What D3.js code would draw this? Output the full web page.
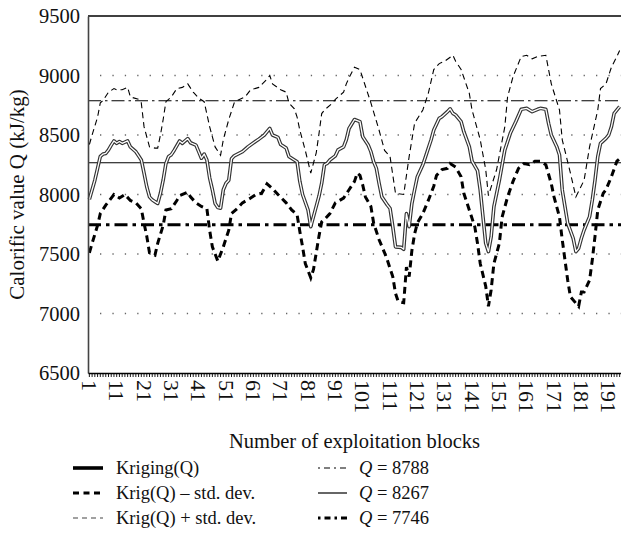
<!DOCTYPE html>
<html>
<head>
<meta charset="utf-8">
<script src="https://cdn.jsdelivr.net/npm/d3@7"></script>
<style>
  body { margin: 0; background: #fff; }
  svg { display: block; font-family: 'Liberation Serif', 'Times New Roman', serif; }
</style>
</head>
<body>
<div id="chart"></div>
<script>
const WIDTH = 621
const HEIGHT = 533
const MARGIN = { top: 16, right: 0, bottom: 160, left: 88 }

// exploitation blocks (categories) and labelled ones
const blocks = d3.range(1, 196)
const xTickLabels = [1, 11, 21, 31, 41, 51, 61, 71, 81, 91, 101, 111, 121, 131, 141, 151, 161, 171, 181, 191]
const yTicks = [6500, 7000, 7500, 8000, 8500, 9000, 9500]
const gridValues = [7000, 7500, 8000, 8500, 9000]

// reference levels Q
const levelHigh = 8788
const levelMid = 8267
const levelLow = 7746

// [block, value]
const kriging = [[1, 7960], [2, 8040], [3, 8120], [4, 8220], [5, 8320], [6, 8340], [7, 8345], [8, 8375], [9, 8415], [10, 8450], [11, 8430], [12, 8445], [13, 8430], [14, 8440], [15, 8450], [16, 8400], [18, 8360], [19, 8325], [20, 8290], [21, 8180], [22, 8065], [23, 7980], [24, 7955], [25, 7940], [26, 7925], [27, 8010], [28, 8120], [29, 8260], [30, 8320], [31, 8335], [32, 8370], [34, 8450], [35, 8430], [37, 8470], [38, 8435], [40, 8415], [41, 8360], [42, 8305], [43, 8340], [44, 8290], [45, 8140], [46, 8040], [47, 7925], [48, 7890], [49, 7885], [50, 8040], [51, 8095], [52, 8120], [53, 8300], [54, 8325], [57, 8360], [59, 8400], [62, 8450], [63, 8465], [65, 8500], [67, 8555], [68, 8500], [70, 8480], [71, 8420], [73, 8390], [74, 8320], [76, 8290], [77, 8275], [78, 8110], [79, 8000], [81, 7870], [82, 7730], [84, 7900], [85, 7985], [86, 8095], [87, 8250], [88, 8262], [89, 8290], [91, 8325], [92, 8375], [94, 8400], [95, 8460], [96, 8555], [98, 8630], [100, 8612], [101, 8486], [103, 8416], [104, 8360], [105, 8276], [106, 8220], [107, 8094], [108, 7980], [110, 7912], [111, 7884], [112, 7730], [113, 7560], [115, 7556], [116, 7540], [117, 7840], [118, 7730], [119, 7926], [120, 8040], [121, 8150], [123, 8250], [124, 8318], [126, 8458], [127, 8542], [129, 8640], [130, 8654], [132, 8696], [133, 8720], [134, 8682], [135, 8668], [137, 8612], [138, 8528], [140, 8402], [141, 8280], [143, 8200], [144, 8038], [145, 7814], [146, 7590], [147, 7520], [148, 7646], [149, 7898], [151, 8120], [152, 8248], [153, 8374], [155, 8514], [157, 8612], [159, 8716], [161, 8724], [163, 8696], [165, 8716], [166, 8724], [168, 8716], [169, 8598], [170, 8500], [172, 8402], [173, 8332], [174, 8038], [175, 7898], [176, 7758], [178, 7632], [179, 7520], [180, 7548], [181, 7632], [182, 7702], [184, 7814], [185, 7954], [186, 8122], [187, 8318], [188, 8430], [190, 8472], [191, 8500], [192, 8570], [193, 8682], [195, 8738]]

const krigPlus = [[1, 8420], [2, 8500], [4, 8650], [5, 8770], [6, 8790], [8, 8860], [10, 8890], [11, 8880], [13, 8880], [15, 8900], [16, 8820], [19, 8800], [20, 8770], [21, 8570], [23, 8400], [25, 8390], [26, 8390], [27, 8500], [28, 8630], [29, 8780], [31, 8820], [33, 8890], [35, 8900], [37, 8930], [39, 8860], [41, 8810], [43, 8780], [45, 8570], [47, 8400], [49, 8330], [50, 8460], [52, 8630], [54, 8770], [55, 8790], [58, 8820], [60, 8880], [63, 8900], [66, 8970], [67, 9000], [68, 8930], [71, 8880], [73, 8860], [74, 8770], [76, 8720], [77, 8650], [78, 8540], [80, 8370], [82, 8180], [84, 8350], [85, 8510], [86, 8680], [87, 8710], [90, 8770], [91, 8800], [92, 8820], [94, 8860], [95, 8930], [96, 8980], [98, 9070], [100, 9050], [102, 8910], [104, 8770], [107, 8540], [109, 8370], [111, 8320], [113, 8010], [116, 8000], [118, 8320], [120, 8600], [123, 8710], [125, 8850], [127, 9050], [129, 9100], [131, 9120], [134, 9170], [135, 9120], [137, 9050], [140, 8850], [141, 8710], [144, 8460], [146, 8210], [147, 7990], [150, 8210], [153, 8570], [154, 8820], [156, 8990], [159, 9160], [161, 9170], [163, 9140], [165, 9160], [168, 9170], [170, 8930], [173, 8710], [174, 8460], [177, 8180], [179, 7980], [182, 8120], [184, 8400], [187, 8710], [188, 8890], [190, 8930], [192, 9070], [194, 9160], [195, 9210]]

const krigMinus = [[1, 7510], [2, 7590], [4, 7740], [5, 7840], [7, 7910], [9, 7970], [10, 8000], [12, 7970], [14, 8000], [16, 7950], [18, 7930], [20, 7880], [21, 7760], [22, 7650], [23, 7510], [25, 7490], [26, 7590], [28, 7740], [29, 7870], [31, 7880], [33, 7950], [34, 7990], [37, 8020], [38, 7980], [40, 7930], [42, 7900], [44, 7880], [45, 7700], [46, 7560], [48, 7440], [50, 7560], [52, 7700], [53, 7840], [55, 7880], [57, 7930], [60, 7970], [62, 8000], [64, 8010], [66, 8090], [68, 8050], [70, 8000], [73, 7930], [75, 7870], [77, 7830], [78, 7690], [79, 7560], [80, 7420], [82, 7300], [83, 7370], [84, 7510], [85, 7650], [86, 7770], [87, 7790], [89, 7840], [91, 7930], [94, 7970], [96, 8040], [98, 8110], [99, 8180], [100, 8160], [101, 8080], [102, 7980], [104, 7900], [105, 7760], [107, 7620], [109, 7510], [110, 7450], [112, 7310], [113, 7170], [114, 7100], [116, 7090], [117, 7390], [118, 7310], [119, 7530], [120, 7670], [121, 7760], [123, 7840], [125, 7950], [127, 8070], [128, 8160], [130, 8210], [132, 8220], [133, 8260], [135, 8230], [137, 8150], [138, 8010], [140, 7870], [142, 7730], [143, 7590], [144, 7420], [146, 7230], [147, 7060], [148, 7200], [149, 7420], [151, 7590], [152, 7810], [154, 7980], [156, 8110], [158, 8220], [160, 8260], [162, 8250], [164, 8280], [166, 8280], [168, 8250], [170, 8090], [171, 7980], [173, 7810], [174, 7620], [175, 7450], [176, 7280], [177, 7140], [180, 7060], [181, 7180], [182, 7180], [184, 7280], [185, 7450], [186, 7650], [187, 7870], [189, 8010], [190, 8040], [192, 8150], [194, 8280], [195, 8300]]

const legendLeft = ['Kriging(Q)', 'Krig(Q) \u2013 std. dev.', 'Krig(Q) + std. dev.']
const legendRight = [levelHigh, levelMid, levelLow]

const svg = d3.select('#chart')
  .append('svg')
  .attr('width', WIDTH)
  .attr('height', HEIGHT)

const plotW = WIDTH - MARGIN.left - MARGIN.right
const plotBottom = HEIGHT - MARGIN.bottom

const x = d3.scaleBand()
  .domain(blocks)
  .range([MARGIN.left, MARGIN.left + plotW])
  .padding(0)
const xc = b => x(b) + x.bandwidth() / 2

const y = d3.scaleLinear()
  .domain([6500, 9500])
  .range([plotBottom, MARGIN.top])

// dotted grid
svg.append('g')
  .selectAll('line')
  .data(gridValues)
  .enter()
  .append('line')
  .attr('x1', MARGIN.left + 12)
  .attr('x2', MARGIN.left + plotW)
  .attr('y1', d => y(d))
  .attr('y2', d => y(d))
  .attr('stroke', '#666')
  .attr('stroke-width', 1.3)
  .attr('stroke-dasharray', '1.3,11.1')

// top border
svg.append('line')
  .attr('x1', MARGIN.left)
  .attr('x2', MARGIN.left + plotW)
  .attr('y1', y(9500))
  .attr('y2', y(9500))
  .attr('stroke', '#000')
  .attr('stroke-width', 1.5)

// Q reference lines
const levelStyles = [
  { v: levelHigh, w: 1.2, dash: '13,4,2.5,4' },
  { v: levelMid, w: 1.2, dash: null },
  { v: levelLow, w: 3, dash: '13,5,3.5,5' }
]
svg.append('g')
  .selectAll('line')
  .data(levelStyles)
  .enter()
  .append('line')
  .attr('x1', MARGIN.left)
  .attr('x2', MARGIN.left + plotW)
  .attr('y1', d => y(d.v))
  .attr('y2', d => y(d.v))
  .attr('stroke', '#000')
  .attr('stroke-width', d => d.w)
  .attr('stroke-dasharray', d => d.dash)

const line = d3.line()
  .x(d => xc(d[0]))
  .y(d => y(d[1]))

// + std dev
svg.append('path')
  .datum(krigPlus)
  .attr('fill', 'none')
  .attr('stroke', '#000')
  .attr('stroke-width', 1.1)
  .attr('stroke-dasharray', '6,4')
  .attr('d', line)

// - std dev
svg.append('path')
  .datum(krigMinus)
  .attr('fill', 'none')
  .attr('stroke', '#000')
  .attr('stroke-width', 3)
  .attr('stroke-dasharray', '7,4.5')
  .attr('d', line)

// kriging: drawn as a hollow double line
svg.append('path')
  .datum(kriging)
  .attr('fill', 'none')
  .attr('stroke', '#333')
  .attr('stroke-width', 3.6)
  .attr('stroke-linejoin', 'round')
  .attr('d', line)
svg.append('path')
  .datum(kriging)
  .attr('fill', 'none')
  .attr('stroke', '#fff')
  .attr('stroke-width', 1.3)
  .attr('stroke-linejoin', 'round')
  .attr('d', line)

// Y axis
svg.append('g')
  .attr('transform', 'translate(' + MARGIN.left + ',0)')
  .call(d3.axisLeft(y).tickValues(yTicks).tickSize(0).tickPadding(8).tickFormat(d3.format('d')))
  .attr('font-family', null)
  .attr('font-size', null)
  .call(g => g.select('.domain').attr('stroke', '#444').attr('stroke-width', 1.6))
  .call(g => g.selectAll('text').attr('font-size', 20.5).attr('fill', '#111'))

// X axis: a small tick for every block
svg.append('g')
  .attr('transform', 'translate(0,' + plotBottom + ')')
  .call(d3.axisBottom(x).tickValues(blocks).tickSize(4).tickSizeOuter(0).tickFormat(''))
  .call(g => g.select('.domain').attr('stroke', '#000').attr('stroke-width', 1.6))
  .call(g => g.selectAll('.tick line').attr('stroke', '#000').attr('stroke-width', 0.9))

// rotated x labels
svg.append('g')
  .selectAll('text')
  .data(xTickLabels)
  .enter()
  .append('text')
  .attr('transform', d => 'translate(' + xc(d) + ',' + (plotBottom + 7) + ') rotate(90)')
  .attr('text-anchor', 'start')
  .attr('dominant-baseline', 'central')
  .attr('font-size', 22)
  .attr('fill', '#111')
  .text(d => d)

// axis titles
svg.append('text')
  .attr('x', MARGIN.left + plotW / 2)
  .attr('y', 441)
  .attr('text-anchor', 'middle')
  .attr('dominant-baseline', 'central')
  .attr('font-size', 20.5)
  .attr('fill', '#111')
  .text('Number of exploitation blocks')

svg.append('text')
  .attr('transform', 'translate(17,' + (MARGIN.top + plotBottom) / 2 + ') rotate(-90)')
  .attr('text-anchor', 'middle')
  .attr('dominant-baseline', 'central')
  .attr('font-size', 21)
  .attr('fill', '#111')
  .text('Calorific value Q (kJ/kg)')

// legend
const rowY = [468, 493, 518]
const leftStyles = [
  { w: 3.6, dash: null, color: '#000' },
  { w: 3, dash: '6,4.5', color: '#000' },
  { w: 1.2, dash: '5,4', color: '#444' }
]
const rightStyles = [
  { w: 1.2, dash: '2,4,6,4' },
  { w: 1.2, dash: null },
  { w: 3, dash: '2.5,4,6,4' }
]
const legend = svg.append('g').attr('class', 'legend')

legendLeft.forEach((label, i) => {
  legend.append('line')
    .attr('x1', 73).attr('x2', 103)
    .attr('y1', rowY[i]).attr('y2', rowY[i])
    .attr('stroke', leftStyles[i].color)
    .attr('stroke-width', leftStyles[i].w)
    .attr('stroke-dasharray', leftStyles[i].dash)
  legend.append('text')
    .attr('x', 116)
    .attr('y', rowY[i])
    .attr('dominant-baseline', 'central')
    .attr('font-size', 18.5)
    .attr('fill', '#111')
    .text(label)
})

legendRight.forEach((val, i) => {
  legend.append('line')
    .attr('x1', 318).attr('x2', 347)
    .attr('y1', rowY[i]).attr('y2', rowY[i])
    .attr('stroke', '#000')
    .attr('stroke-width', rightStyles[i].w)
    .attr('stroke-dasharray', rightStyles[i].dash)
  const t = legend.append('text')
    .attr('x', 359)
    .attr('y', rowY[i])
    .attr('dominant-baseline', 'central')
    .attr('font-size', 18.5)
    .attr('fill', '#111')
  t.append('tspan').attr('font-style', 'italic').text('Q')
  t.append('tspan').text(' = ' + val)
})
</script>
</body>
</html>
